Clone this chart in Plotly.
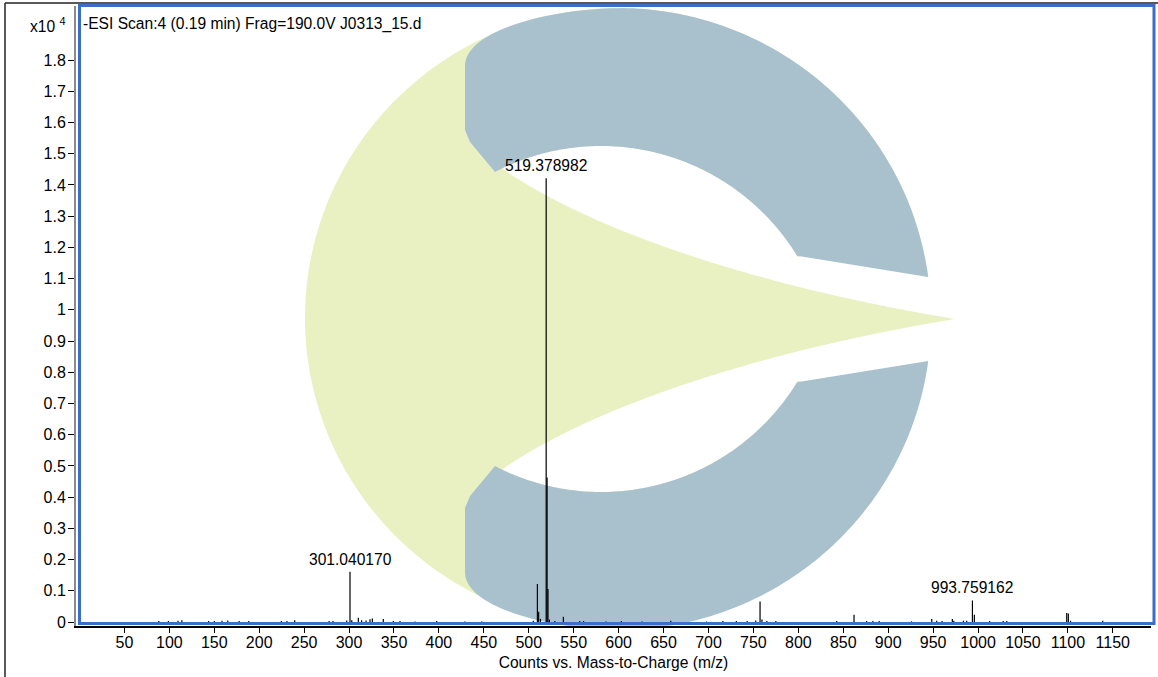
import numpy as np
import plotly.graph_objects as go

# ---------------- data (counts in units of 1e4) ----------------
peak_mz = [88.3, 98.9, 109.6, 113.9, 143.7, 150.0, 158.6, 165.0, 177.7, 188.4,
           224.6, 230.9, 239.5, 277.8, 282.1, 297.4, 301.04017, 303.0, 310.3, 314.0,
           318.9, 323.3, 325.9, 338.1, 349.3, 356.7, 373.4, 397.5, 429.0, 447.6,
           505.0, 509.6, 511.0, 513.0, 519.378982, 520.38, 521.38, 523.0, 529.0, 538.5,
           556.8, 561.0, 586.0, 603.0, 626.0, 658.0, 698.0, 716.0, 731.0, 743.0,
           752.6, 757.4, 759.5, 765.0, 775.0, 842.7, 862.0, 876.0, 883.0, 890.0,
           926.0, 948.5, 954.0, 960.0, 971.4, 973.0, 983.7, 987.4, 993.759162, 995.9,
           1013.0, 1028.0, 1032.0, 1098.7, 1100.5, 1103.0, 1138.8]
peak_counts = [0.003, 0.003, 0.004, 0.006, 0.003, 0.003, 0.004, 0.005, 0.003, 0.003,
               0.003, 0.003, 0.006, 0.003, 0.003, 0.005, 0.161, 0.006, 0.014, 0.006,
               0.005, 0.009, 0.011, 0.010, 0.003, 0.003, 0.002, 0.003, 0.002, 0.002,
               0.004, 0.122, 0.033, 0.010, 1.421, 0.463, 0.106, 0.008, 0.003, 0.017,
               0.003, 0.003, 0.002, 0.003, 0.002, 0.004, 0.002, 0.003, 0.003, 0.003,
               0.005, 0.066, 0.008, 0.003, 0.003, 0.003, 0.023, 0.003, 0.003, 0.003,
               0.002, 0.010, 0.004, 0.003, 0.010, 0.004, 0.004, 0.004, 0.069, 0.023,
               0.003, 0.003, 0.003, 0.029, 0.027, 0.004, 0.004]
labeled_mz = [301.040170, 519.378982, 993.759162]
labeled_counts = [0.161, 1.421, 0.069]
labeled_text = ["301.040170", "519.378982", "993.759162"]
x_tick_vals = [50, 100, 150, 200, 250, 300, 350, 400, 450, 500, 550, 600,
               650, 700, 750, 800, 850, 900, 950, 1000, 1050, 1100, 1150]
y_tick_vals = [0, 0.1, 0.2, 0.3, 0.4, 0.5, 0.6, 0.7, 0.8, 0.9, 1.0,
               1.1, 1.2, 1.3, 1.4, 1.5, 1.6, 1.7, 1.8]
title_text = "-ESI Scan:4 (0.19 min) Frag=190.0V J0313_15.d"
x_title = "Counts vs. Mass-to-Charge (m/z)"

# ---------------- layout geometry ----------------
W, H = 1158, 677
ML, MR, MT, MB = 76, 7, 6, 51
PW, PH = W - ML - MR, H - MT - MB
XR = [-3.9, 1192.5]
YR = [-0.0128, 1.973]
FONT = "Liberation Sans, Arial, sans-serif"
FS = 15.6      # text size
FT = 16        # tick label size


def to_paper(px, py):
    return (px - ML) / PW, (H - MB - py) / PH


def to_axes(px, py):
    xp, yp = to_paper(px, py)
    return XR[0] + xp * (XR[1] - XR[0]), YR[0] + yp * (YR[1] - YR[0])


def poly_path(pts):
    parts = []
    for i, (px, py) in enumerate(pts):
        xd, yd = to_axes(px, py)
        parts.append(("M" if i == 0 else "L") + f"{xd:.4f},{yd:.6f}")
    return " ".join(parts) + " Z"


def ell(c, rx, ry, a0, a1, n=160):
    t = np.linspace(a0, a1, n)
    return list(zip(c[0] + rx * np.cos(t), c[1] + ry * np.sin(t)))


def bez(p0, p1, p2, p3, n=60):
    t = np.linspace(0, 1, n)[:, None]
    p0, p1, p2, p3 = map(np.array, (p0, p1, p2, p3))
    pts = (1 - t) ** 3 * p0 + 3 * (1 - t) ** 2 * t * p1 + 3 * (1 - t) * t ** 2 * p2 + t ** 3 * p3
    return [tuple(p) for p in pts]


def mirror(pts, sy):
    return [(x, 2 * sy - y) for x, y in pts]


# ---------------- watermark logo (pixel-space geometry) ----------------
YEL = "#e9f1c2"
BLU = "#a9c1cd"
OC, ORX, ORY = (618.0, 318.0), 313.0, 310.0     # outer rim
IC, IR = (601.0, 376.0), 230.0                  # inner edge of the upper arm
SY = 319.0
TIP = (955.0, SY)


def inner_y(x):
    return IC[1] - np.sqrt(max(IR ** 2 - (x - IC[0]) ** 2, 0.0))


shapes = []
# yellow disk with horn tip
yellow = ell(OC, ORX, ORY, -0.15, -2 * np.pi + 0.15, 320) + [TIP]
shapes.append(dict(type="path", path=poly_path(yellow), xref="x", yref="y",
                   fillcolor=YEL, line=dict(width=0), layer="below"))

# white regions above / below horn (inside the hole and the gap)
horn = bez((488, 158), (560, 215), (720, 280), TIP, 200)
keep, started = [], False
for (x, y) in horn:
    if y > inner_y(x) or x > 760:
        started = True
    if started:
        keep.append((x, y))
x_first = keep[0][0]
a_first = np.arctan2(inner_y(x_first) - IC[1], x_first - IC[0])
a_right = np.arctan2(inner_y(798) - IC[1], 798 - IC[0])
white_up = keep + [(975, SY), (975, 200)] + ell(IC, IR, IR, a_right, a_first, 160)
for pts in (white_up, mirror(white_up, SY)):
    shapes.append(dict(type="path", path=poly_path(pts), xref="x", yref="y",
                       fillcolor="white", line=dict(width=0), layer="below"))

# blue "C" arms
aT = -1.54
T = (OC[0] + ORX * np.cos(aT), OC[1] + ORY * np.sin(aT))
aE = np.arcsin((277 - OC[1]) / ORY)
x_end = 797.0
aI0 = np.arctan2(inner_y(x_end) - IC[1], x_end - IC[0])
aI1 = np.arctan2(inner_y(495) - IC[1], 495 - IC[0])
blue_up = (ell(OC, ORX, ORY, aT, aE, 160) + ell(IC, IR, IR, aI0, aI1, 160)
           + [(470, 142), (465, 130), (465, 66)]
           + bez((465, 66), (465, 28), (560, 7), T, 40))
for pts in (blue_up, mirror(blue_up, SY)):
    shapes.append(dict(type="path", path=poly_path(pts), xref="x", yref="y",
                       fillcolor=BLU, line=dict(width=0), layer="below"))

# outer window edges (black) and blue selection frame
x0, y0 = to_paper(5, 3)
shapes.append(dict(type="line", xref="paper", yref="paper", x0=x0, x1=x0, y0=y0, y1=to_paper(5, 700)[1],
                   line=dict(color="#222", width=1.5)))
shapes.append(dict(type="line", xref="paper", yref="paper", x0=x0, x1=to_paper(1170, 3)[0], y0=y0, y1=y0,
                   line=dict(color="#222", width=1.5)))
bx0, by0 = to_paper(79.5, 623.5)
bx1, by1 = to_paper(1154, 5.5)
shapes.append(dict(type="rect", xref="paper", yref="paper", x0=bx0, x1=bx1, y0=by0, y1=by1,
                   line=dict(color="#3a6ec8", width=3), fillcolor="rgba(0,0,0,0)", layer="above"))

# ---------------- spectrum sticks ----------------
xs, ys = [], []
for m, c in zip(peak_mz, peak_counts):
    xs += [m, m, None]
    ys += [0, c, None]

fig = go.Figure()
fig.add_trace(go.Scatter(x=xs, y=ys, mode="lines", line=dict(color="black", width=1.2),
                         hoverinfo="skip", showlegend=False))

annotations = []
for m, c, t in zip(labeled_mz, labeled_counts, labeled_text):
    annotations.append(dict(x=m, y=c, xref="x", yref="y", text=t, showarrow=False,
                            yanchor="bottom", xanchor="center", yshift=2,
                            font=dict(family=FONT, size=FS, color="black")))
tx, ty = to_paper(81, 24)
annotations.append(dict(x=tx, y=ty, xref="paper", yref="paper", text=title_text, showarrow=False,
                        xanchor="left", yanchor="middle", font=dict(family=FONT, size=FS, color="black")))
ex, ey = to_paper(68, 25)
annotations.append(dict(x=ex, y=ey, xref="paper", yref="paper", text="x10 <sup>4</sup>", showarrow=False,
                        xanchor="right", yanchor="middle", font=dict(family=FONT, size=FS, color="black")))

fig.update_layout(
    width=W, height=H,
    margin=dict(l=ML, r=MR, t=MT, b=MB, pad=0),
    paper_bgcolor="white", plot_bgcolor="white",
    font=dict(family=FONT, size=FS, color="black"),
    shapes=shapes, annotations=annotations,
    xaxis=dict(range=XR, tickvals=x_tick_vals, ticks="outside", ticklen=5,
               tickcolor="black", tickwidth=1, showline=True, linecolor="black", linewidth=1.5,
               showgrid=False, zeroline=False, automargin=False, ticklabelstandoff=-4,
               tickfont=dict(family=FONT, size=FT, color="black"),
               title=dict(text=x_title, font=dict(family=FONT, size=FS, color="black"), standoff=7)),
    yaxis=dict(range=YR, tickvals=y_tick_vals, ticks="outside", ticklen=6,
               tickcolor="black", tickwidth=1, showline=True, linecolor="#8a8a8a", linewidth=2,
               showgrid=False, zeroline=False, automargin=False, ticklabelstandoff=-1,
               tickfont=dict(family=FONT, size=FT, color="black")),
)

fig.write_html("out.html", config={"displayModeBar": False},
               post_script="document.body.style.margin='0';document.body.style.overflow='hidden';")
